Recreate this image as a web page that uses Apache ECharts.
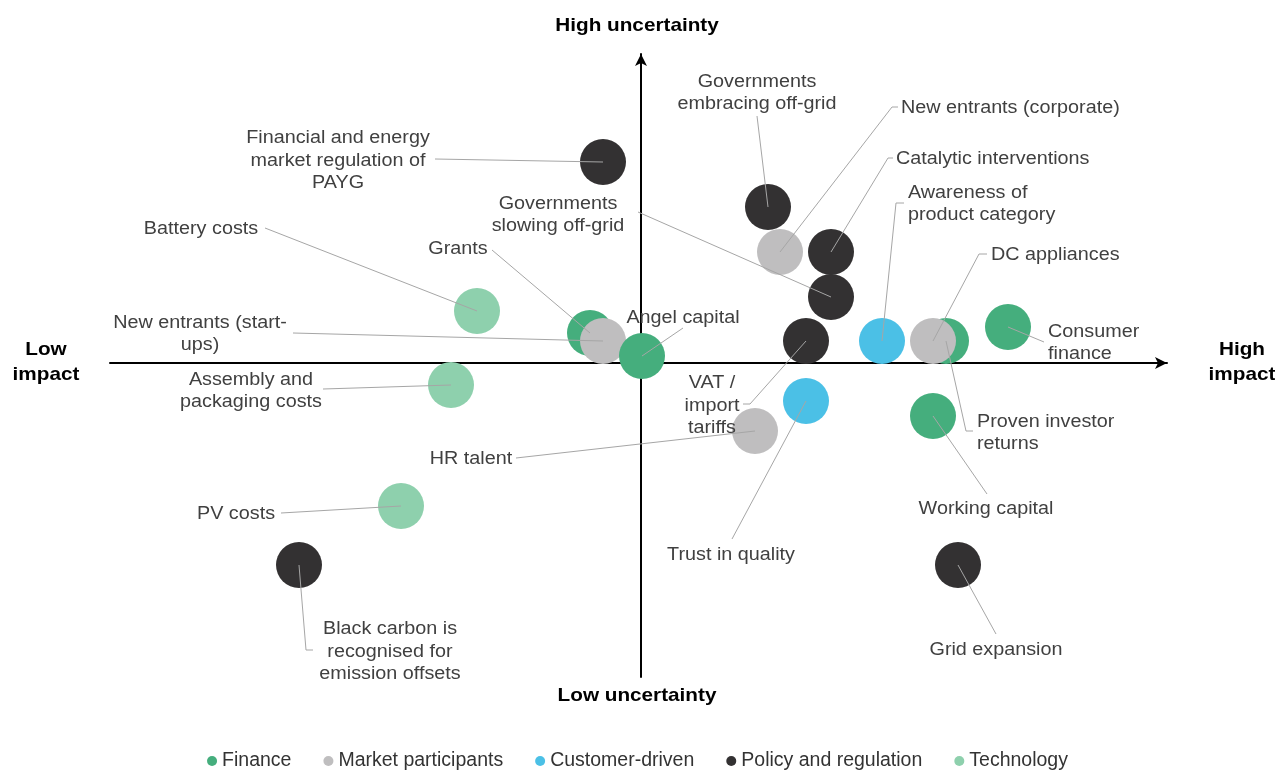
<!DOCTYPE html>
<html>
<head>
<meta charset="utf-8">
<script src="https://cdn.jsdelivr.net/npm/echarts@6/dist/echarts.min.js"></script>
<style>
    html, body { margin: 0; padding: 0; background: #fff; }
    #chart { width: 1275px; height: 771px; }
</style>
</head>
<body>
<div id="chart"></div>
<script>
    // drivers, in drawing order (later ones sit on top)
    var names = [
        'Financial and energy\nmarket regulation of\nPAYG',
        'Governments\nembracing off-grid',
        'New entrants (corporate)',
        'Catalytic interventions',
        'Governments\nslowing off-grid',
        'Battery costs',
        'Grants',
        'New entrants (start-\nups)',
        'Angel capital',
        'VAT /\nimport\ntariffs',
        'Awareness of\nproduct category',
        'Proven investor\nreturns',
        'DC appliances',
        'Consumer\nfinance',
        'Assembly and\npackaging costs',
        'Trust in quality',
        'HR talent',
        'Working capital',
        'PV costs',
        'Black carbon is\nrecognised for\nemission offsets',
        'Grid expansion'
    ];
    // impact (x) and uncertainty (y)
    var impact = [-3.8, 12.7, 13.9, 19.0, 19.0, -16.4, -5.1, -3.8, 0.1, 16.5, 24.1,
        30.5, 29.2, 36.7, -19.0, 16.5, 11.4, 29.2, -24.0, -34.2, 31.7];
    var uncertainty = [20.1, 15.6, 11.1, 11.1, 6.6, 5.2, 3.0, 2.2, 0.7, 2.2, 2.2,
        2.2, 2.2, 3.6, -2.2, -3.8, -6.8, -5.3, -14.3, -20.2, -20.2];
    var group = [3, 3, 1, 3, 3, 4, 0, 1, 0, 3, 2, 0, 1, 0, 4, 2, 1, 0, 4, 3, 3];

    var groups = ['Finance', 'Market participants', 'Customer-driven', 'Policy and regulation', 'Technology'];
    var colors = ['#45ae7d', '#bfbebf', '#4bc0e6', '#333132', '#8ed0ad'];

    // label placement: anchor, alignment and leader line bends (pixels)
    var labelPos = [
        {x: 338, y: 161, align: 'center', line: [[435, 159]]},
        {x: 757, y: 93, align: 'center', line: [[757, 116]]},
        {x: 901, y: 108, align: 'left', line: [[892, 107], [898, 107]]},
        {x: 896, y: 159, align: 'left', line: [[888, 158], [893, 158]]},
        {x: 558, y: 215, align: 'center', line: [[638, 212]]},
        {x: 201, y: 229, align: 'center', line: [[265, 228]]},
        {x: 458, y: 249, align: 'center', line: [[492, 250]]},
        {x: 200, y: 334, align: 'center', line: [[293, 333]]},
        {x: 683, y: 318, align: 'center', line: [[683, 328]]},
        {x: 712, y: 406, align: 'center', line: [[750, 404], [743, 404]]},
        {x: 908, y: 204, align: 'left', line: [[896, 203], [904, 203]]},
        {x: 977, y: 433, align: 'left', line: [[966, 431], [973, 431]]},
        {x: 991, y: 255, align: 'left', line: [[979, 254], [987, 254]]},
        {x: 1048, y: 343, align: 'left', line: [[1044, 342]]},
        {x: 251, y: 391, align: 'center', line: [[323, 389]]},
        {x: 731, y: 555, align: 'center', line: [[732, 539]]},
        {x: 471, y: 459, align: 'center', line: [[516, 458]]},
        {x: 986, y: 509, align: 'center', line: [[987, 494]]},
        {x: 236, y: 514, align: 'center', line: [[281, 513]]},
        {x: 390, y: 652, align: 'center', line: [[306, 650], [313, 650]]},
        {x: 996, y: 650, align: 'center', line: [[996, 634]]}
    ];

    var FONT = '"Liberation Sans", Arial, sans-serif';
    // the original lettering runs wider than Arial
    var STRETCH = 1.13;

    var chart = echarts.init(document.getElementById('chart'));

    var points = names.map(function (n, i) {
        return {
            name: n,
            value: [impact[i], uncertainty[i]],
            itemStyle: {color: colors[group[i]]}
        };
    });

    var legendSeries = groups.map(function (g, i) {
        return {
            name: g,
            type: 'scatter',
            itemStyle: {color: colors[i], opacity: 1},
            data: []
        };
    });

    chart.setOption({
        backgroundColor: '#fff',
        animation: false,
        grid: {
            left: 110,
            right: 108,
            top: 54,
            bottom: 94
        },
        legend: {
            data: groups,
            top: 746,
            left: 'center',
            icon: 'circle',
            itemWidth: 10,
            itemHeight: 10,
            itemGap: 32,
            textStyle: {
                fontFamily: FONT,
                fontSize: 19.5,
                color: '#333'
            }
        },
        xAxis: {
            type: 'value',
            min: -53.1,
            max: 52.6,
            axisLine: {
                onZero: true,
                symbol: ['none', 'arrow'],
                symbolSize: [9, 12],
                lineStyle: {color: '#000', width: 2}
            },
            axisTick: {show: false},
            axisLabel: {show: false},
            splitLine: {show: false}
        },
        yAxis: {
            type: 'value',
            min: -31.4,
            max: 30.9,
            axisLine: {
                onZero: true,
                symbol: ['none', 'arrow'],
                symbolSize: [9, 12],
                lineStyle: {color: '#000', width: 2}
            },
            axisTick: {show: false},
            axisLabel: {show: false},
            splitLine: {show: false}
        },
        series: [
            {
                name: 'drivers',
                type: 'scatter',
                symbolSize: 46,
                itemStyle: {opacity: 1},
                z: 3,
                data: points
            }
        ].concat(legendSeries)
    });

    // leader lines and labels, laid out from the bubble centres
    var elements = [];
    points.forEach(function (p, i) {
        var c = chart.convertToPixel({gridIndex: 0}, p.value);
        var lp = labelPos[i];
        elements.push({
            type: 'polyline',
            z: 100,
            shape: {points: [c].concat(lp.line)},
            style: {stroke: '#a6a6a6', lineWidth: 1, fill: null}
        });
        elements.push({
            type: 'text',
            z: 100,
            x: lp.x,
            y: lp.y,
            scaleX: STRETCH,
            style: {
                text: p.name,
                fill: '#404040',
                fontSize: 17.5,
                fontFamily: FONT,
                lineHeight: 22.5,
                align: lp.align,
                verticalAlign: 'middle'
            }
        });
    });

    var titleStyle = {
        fill: '#000',
        fontSize: 18.5,
        fontWeight: 'bold',
        fontFamily: FONT,
        lineHeight: 25,
        align: 'center',
        verticalAlign: 'middle'
    };
    [
        {t: 'High uncertainty', x: 637, y: 26},
        {t: 'Low uncertainty', x: 637, y: 696},
        {t: 'Low\nimpact', x: 46, y: 362},
        {t: 'High\nimpact', x: 1242, y: 362}
    ].forEach(function (a) {
        elements.push({
            type: 'text',
            z: 100,
            x: a.x,
            y: a.y,
            scaleX: 1.12,
            style: Object.assign({text: a.t}, titleStyle)
        });
    });

    chart.setOption({graphic: {elements: elements}});
</script>
</body>
</html>
